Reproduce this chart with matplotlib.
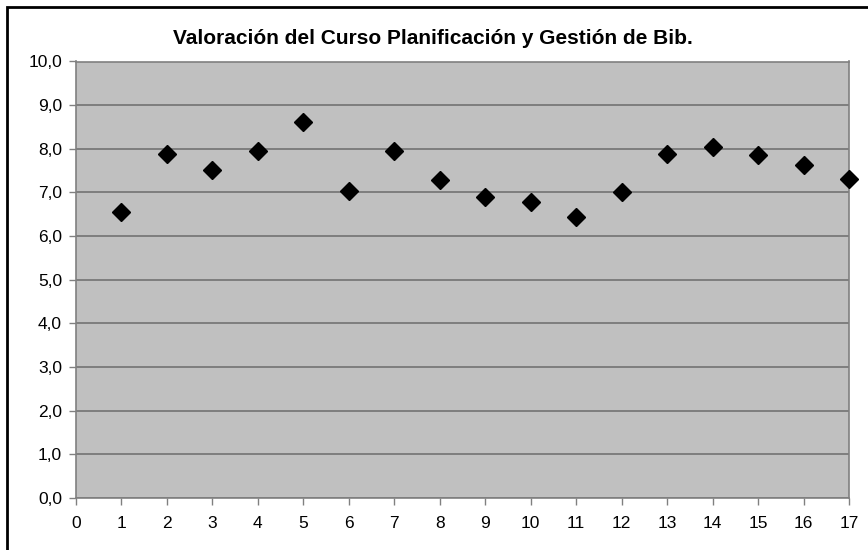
import matplotlib
matplotlib.use("Agg")
import matplotlib.pyplot as plt
from matplotlib.patches import Rectangle

plt.rcParams['font.family'] = ['Liberation Sans', 'DejaVu Sans']

title = "Valoración del Curso Planificación y Gestión de Bib."
x_values = [1, 2, 3, 4, 5, 6, 7, 8, 9, 10, 11, 12, 13, 14, 15, 16, 17]
y_values = [6.56, 7.88, 7.52, 7.96, 8.61, 7.03, 7.96, 7.29, 6.90, 6.79, 6.43, 7.00,
            7.88, 8.04, 7.85, 7.63, 7.31]
x_ticks = list(range(0, 18))
y_ticks = [0, 1, 2, 3, 4, 5, 6, 7, 8, 9, 10]
y_tick_labels = ["0,0", "1,0", "2,0", "3,0", "4,0", "5,0", "6,0", "7,0", "8,0", "9,0", "10,0"]

W, H = 868, 550
fig = plt.figure(figsize=(W / 100, H / 100), dpi=100)
fig.patch.set_facecolor('white')

# outer chart border (cropped at right/bottom)
fig.add_artist(Rectangle((7 / W, -0.05), 1.2, (H - 7) / H + 0.05, transform=fig.transFigure,
                         fill=False, edgecolor='black', linewidth=2.0))

left, right, top, bottom = 76, 849, 61.5, 498
ax = fig.add_axes([left / W, (H - bottom) / H, (right - left) / W, (bottom - top) / H])
ax.set_facecolor('#C0C0C0')
ax.set_xlim(0, 17)
ax.set_ylim(0, 10)
ax.set_yticks(y_ticks)
ax.set_yticklabels(y_tick_labels)
ax.set_xticks(x_ticks)
ax.grid(axis='y', color='#787878', linewidth=1.3)
ax.set_axisbelow(True)
for s in ax.spines.values():
    s.set_color('#808080')
    s.set_linewidth(1.2)
ax.tick_params(axis='both', colors='#808080', length=5, width=1, labelcolor='black',
               labelsize=12.5)
ax.tick_params(axis='y', pad=5)
ax.tick_params(axis='x', pad=8)

ax.plot(x_values, y_values, linestyle='none', marker='D', markersize=9,
        color='black', clip_on=False, zorder=5)

fig.text(433 / W, 1 - 38 / H, title, ha='center', va='center',
         fontsize=15, fontweight='bold')

fig.savefig('out.png', dpi=100)
